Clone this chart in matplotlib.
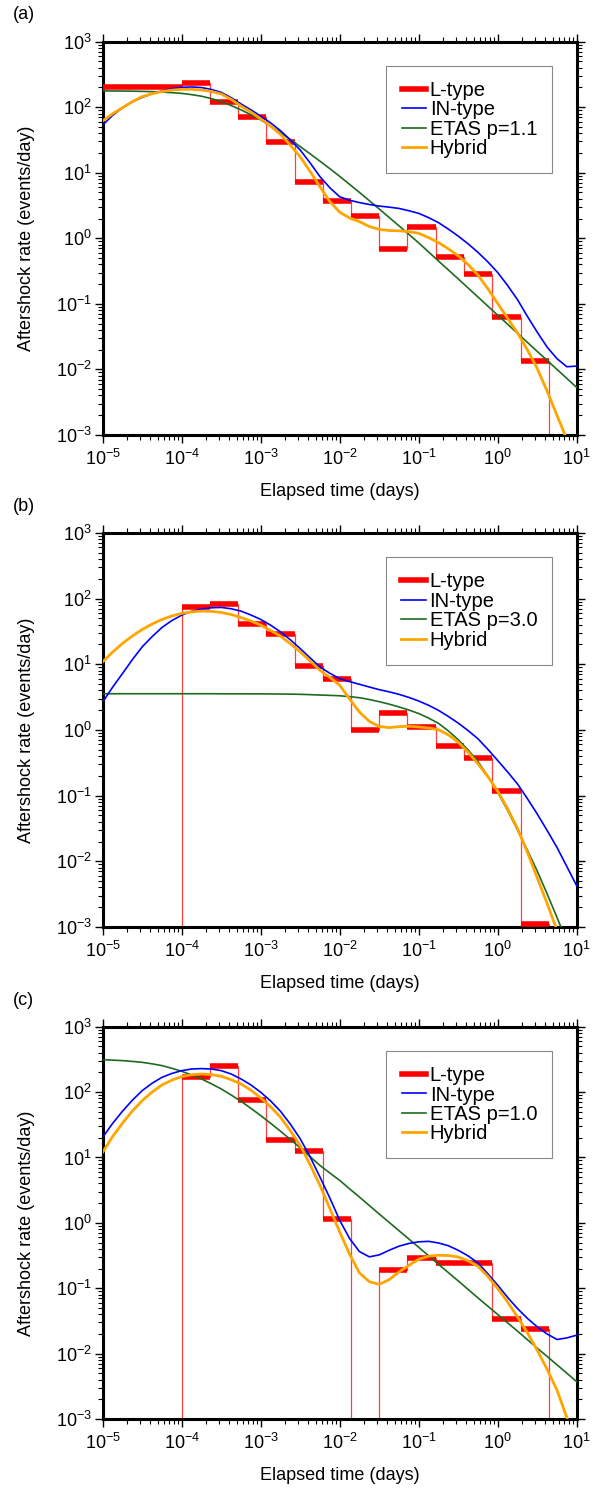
import numpy as np
import matplotlib

matplotlib.use("Agg")
import matplotlib.pyplot as plt
from matplotlib.lines import Line2D
from matplotlib.ticker import FixedLocator, LogLocator, NullFormatter

plt.rcParams["font.family"] = ["Liberation Sans", "DejaVu Sans"]
plt.rcParams["mathtext.fontset"] = "custom"
plt.rcParams["mathtext.rm"] = "Liberation Sans"
plt.rcParams["mathtext.it"] = "Liberation Sans:italic"
plt.rcParams["mathtext.bf"] = "Liberation Sans:bold"

# sample times of the model curves, log10(days)
LOG_T = [-5.0, -4.875, -4.75, -4.625, -4.5, -4.375, -4.25, -4.125, -4.0, -3.875,
         -3.75, -3.625, -3.5, -3.375, -3.25, -3.125, -3.0, -2.875, -2.75, -2.625,
         -2.5, -2.375, -2.25, -2.125, -2.0, -1.875, -1.75, -1.625, -1.5, -1.375,
         -1.25, -1.125, -1.0, -0.875, -0.75, -0.625, -0.5, -0.375, -0.25, -0.125,
         0.0, 0.125, 0.25, 0.375, 0.5, 0.625, 0.75, 0.875, 1.0]

X_TICKS = [1e-5, 1e-4, 1e-3, 1e-2, 1e-1, 1e0, 1e1]
Y_TICKS = [1e-3, 1e-2, 1e-1, 1e0, 1e1, 1e2, 1e3]

# L-type binned rates (edges in days)
BIN_EDGES = [1e-5, 1.0e-4, 2.28e-4, 5.2e-4, 1.18e-3, 2.7e-3, 6.1e-3, 0.0139, 0.0318,
             0.072, 0.165, 0.375, 0.855, 1.95, 4.45]
RATE_A = [200, 232, 121, 70, 29.7, 7.3, 3.7, 2.2, 0.69, 1.5, 0.52, 0.29, 0.062, 0.0135]
RATE_B = [0, 75, 84, 41, 29, 9.4, 5.9, 1.0, 1.8, 1.1, 0.56, 0.37, 0.116, 0.0011]
RATE_C = [0, 173, 251, 76, 18.2, 12.4, 1.15, 0, 0.188, 0.29, 0.245, 0.245, 0.034, 0.024]

# model curves, log10(events/day)
# panel (a)
IN_A = [1.728, 1.875, 1.991, 2.08, 2.149, 2.205, 2.248, 2.282, 2.303, 2.308,
        2.299, 2.27, 2.225, 2.145, 2.049, 1.96, 1.863, 1.76, 1.641, 1.50,
        1.346, 1.15, 0.940, 0.77, 0.633, 0.58, 0.544, 0.515, 0.491, 0.475,
        0.455, 0.42, 0.380, 0.315, 0.238, 0.14, 0.033, -0.085, -0.215, -0.36,
        -0.523, -0.72, -0.936, -1.19, -1.432, -1.66, -1.836, -1.96, -1.95]
ETAS_A = [2.248, 2.247, 2.246, 2.244, 2.241, 2.236, 2.230, 2.221, 2.210, 2.191,
          2.167, 2.13, 2.086, 2.025, 1.959, 1.885, 1.806, 1.712, 1.613, 1.507,
          1.398, 1.288, 1.176, 1.062, 0.944, 0.822, 0.699, 0.573, 0.447, 0.318,
          0.190, 0.06, -0.071, -0.209, -0.347, -0.483, -0.620, -0.758, -0.896, -1.035,
          -1.174, -1.311, -1.449, -1.587, -1.726, -1.863, -2.0, -2.138, -2.276]
HYB_A = [1.789, 1.90, 1.991, 2.085, 2.161, 2.205, 2.238, 2.26, 2.272, 2.272,
         2.262, 2.24, 2.201, 2.12, 2.017, 1.925, 1.820, 1.71, 1.585, 1.42,
         1.243, 1.02, 0.785, 0.56, 0.398, 0.31, 0.253, 0.18, 0.134, 0.118,
         0.114, 0.10, 0.076, 0.01, -0.066, -0.16, -0.268, -0.40, -0.562, -0.77,
         -0.996, -1.22, -1.444, -1.70, -1.987, -2.33, -2.70, -3.07, -3.44]

# panel (b)
IN_B = [0.425, 0.65, 0.858, 1.07, 1.265, 1.42, 1.560, 1.665, 1.748, 1.805,
        1.840, 1.86, 1.865, 1.845, 1.809, 1.75, 1.682, 1.595, 1.494, 1.372,
        1.239, 1.097, 0.959, 0.862, 0.781, 0.735, 0.695, 0.653, 0.613, 0.58,
        0.542, 0.495, 0.440, 0.375, 0.298, 0.205, 0.104, -0.01, -0.135, -0.295,
        -0.466, -0.64, -0.822, -1.045, -1.280, -1.53, -1.789, -2.08, -2.374]
ETAS_B = [0.551, 0.551, 0.551, 0.551, 0.551, 0.551, 0.551, 0.551, 0.551, 0.551,
          0.551, 0.551, 0.550, 0.550, 0.550, 0.549, 0.549, 0.548, 0.547, 0.545,
          0.542, 0.537, 0.531, 0.526, 0.520, 0.507, 0.490, 0.463, 0.430, 0.393,
          0.350, 0.303, 0.250, 0.18, 0.100, -0.015, -0.149, -0.305, -0.481, -0.705,
          -0.951, -1.225, -1.523, -1.83, -2.149, -2.495, -2.854, -3.22, -3.602]
HYB_B = [1.037, 1.185, 1.316, 1.43, 1.529, 1.612, 1.681, 1.735, 1.774, 1.797,
         1.809, 1.805, 1.789, 1.757, 1.712, 1.658, 1.595, 1.516, 1.427, 1.314,
         1.188, 1.05, 0.908, 0.80, 0.681, 0.47, 0.272, 0.13, 0.053, 0.035,
         0.05, 0.055, 0.045, 0.03, 0.004, -0.075, -0.187, -0.34, -0.517, -0.71,
         -0.932, -1.2, -1.50, -1.86, -2.252, -2.64, -3.051, -3.47, -3.90]

# panel (c)
IN_C = [1.310, 1.52, 1.707, 1.875, 2.023, 2.135, 2.226, 2.285, 2.328, 2.353,
        2.359, 2.353, 2.328, 2.277, 2.201, 2.11, 1.997, 1.865, 1.707, 1.51,
        1.285, 1.01, 0.700, 0.38, 0.038, -0.24, -0.44, -0.52, -0.49, -0.42,
        -0.357, -0.315, -0.29, -0.283, -0.308, -0.35, -0.420, -0.505, -0.613, -0.78,
        -0.954, -1.14, -1.310, -1.46, -1.590, -1.70, -1.784, -1.76, -1.718]
ETAS_C = [2.496, 2.489, 2.481, 2.469, 2.455, 2.432, 2.405, 2.364, 2.318, 2.262,
          2.201, 2.127, 2.048, 1.956, 1.860, 1.752, 1.641, 1.523, 1.402, 1.276,
          1.148, 1.013, 0.878, 0.762, 0.649, 0.52, 0.394, 0.265, 0.135, 0.008,
          -0.120, -0.247, -0.374, -0.504, -0.634, -0.761, -0.888, -1.018, -1.148, -1.275,
          -1.402, -1.529, -1.656, -1.786, -1.916, -2.043, -2.171, -2.30, -2.430]
HYB_C = [1.081, 1.32, 1.524, 1.71, 1.870, 2.0, 2.109, 2.183, 2.237, 2.265,
         2.277, 2.268, 2.242, 2.19, 2.125, 2.03, 1.911, 1.775, 1.616, 1.41,
         1.183, 0.89, 0.573, 0.22, -0.140, -0.48, -0.766, -0.90, -0.94, -0.87,
         -0.751, -0.65, -0.557, -0.51, -0.496, -0.50, -0.522, -0.58, -0.664, -0.82,
         -1.005, -1.21, -1.438, -1.68, -1.947, -2.24, -2.557, -2.98, -3.473]

PANELS = [
    ("(a)", RATE_A, IN_A, ETAS_A, HYB_A, "ETAS p=1.1"),
    ("(b)", RATE_B, IN_B, ETAS_B, HYB_B, "ETAS p=3.0"),
    ("(c)", RATE_C, IN_C, ETAS_C, HYB_C, "ETAS p=1.0"),
]

RED = "#ff0000"
BLUE = "#0000ff"
GREEN = "#1e6b1e"
ORANGE = "#ffa500"

# axes boxes in figure fractions (left, bottom, width, height)
AXES_BOXES = [
    (0.1712, 0.7083, 0.790, 0.2638),
    (0.1712, 0.3783, 0.790, 0.2643),
    (0.1712, 0.0483, 0.790, 0.2631),
]

fig = plt.figure(figsize=(6.0, 14.91), dpi=100)
t = np.power(10.0, LOG_T)
edges = np.array(BIN_EDGES)
floor = 1e-9

for box, (tag, rates, in_type, etas, hybrid, etas_label) in zip(AXES_BOXES, PANELS):
    ax = fig.add_axes(box)
    rates = np.array(rates, dtype=float)

    # thin step outline, zero bins drop to the bottom of the frame
    ax.stairs(np.where(rates > 0, rates, floor), edges, baseline=floor,
              color=RED, linewidth=0.9, alpha=0.75, zorder=2)
    filled = rates > 0
    ax.hlines(rates[filled], edges[:-1][filled], edges[1:][filled],
              color=RED, linewidth=4.0, zorder=3)

    ax.plot(t, np.power(10.0, in_type), color=BLUE, linewidth=1.2, zorder=5)
    ax.plot(t, np.power(10.0, etas), color=GREEN, linewidth=1.2, zorder=4)
    ax.plot(t, np.power(10.0, hybrid), color=ORANGE, linewidth=2.0, zorder=6)

    ax.set_xscale("log")
    ax.set_yscale("log")
    ax.set_xlim(1e-5, 10)
    ax.set_ylim(1e-3, 1e3)
    ax.xaxis.set_major_locator(FixedLocator(X_TICKS))
    ax.yaxis.set_major_locator(FixedLocator(Y_TICKS))
    for axis in (ax.xaxis, ax.yaxis):
        axis.set_minor_locator(LogLocator(base=10, subs=np.arange(2, 10), numticks=20))
        axis.set_minor_formatter(NullFormatter())
    ax.tick_params(which="both", direction="out", top=True, right=True,
                   labelsize=13, width=1.0)
    ax.tick_params(axis="x", pad=4)
    ax.tick_params(axis="y", pad=2)
    ax.tick_params(which="major", length=6)
    ax.tick_params(which="minor", length=3.5, width=0.8)
    for spine in ax.spines.values():
        spine.set_linewidth(2.2)

    ax.set_xlabel("Elapsed time (days)", fontsize=13, labelpad=10)
    ax.set_ylabel("Aftershock rate (events/day)", fontsize=13, labelpad=15)
    ax.text(-0.19, 1.068, tag, transform=ax.transAxes, fontsize=13, ha="left", va="center")

    handles = [
        Line2D([], [], color=RED, linewidth=4.0),
        Line2D([], [], color=BLUE, linewidth=1.2),
        Line2D([], [], color=GREEN, linewidth=1.2),
        Line2D([], [], color=ORANGE, linewidth=2.0),
    ]
    leg = ax.legend(handles, ["L-type", "IN-type", etas_label, "Hybrid"],
                    loc="upper right", bbox_to_anchor=(0.9485, 0.938), borderaxespad=0,
                    fontsize=14.5, fancybox=False, framealpha=1, edgecolor="#888888",
                    handlelength=1.2, handletextpad=0.2, labelspacing=0.02, borderpad=0.75)
    leg.get_frame().set_linewidth(0.8)

fig.savefig("out.png", dpi=100)
